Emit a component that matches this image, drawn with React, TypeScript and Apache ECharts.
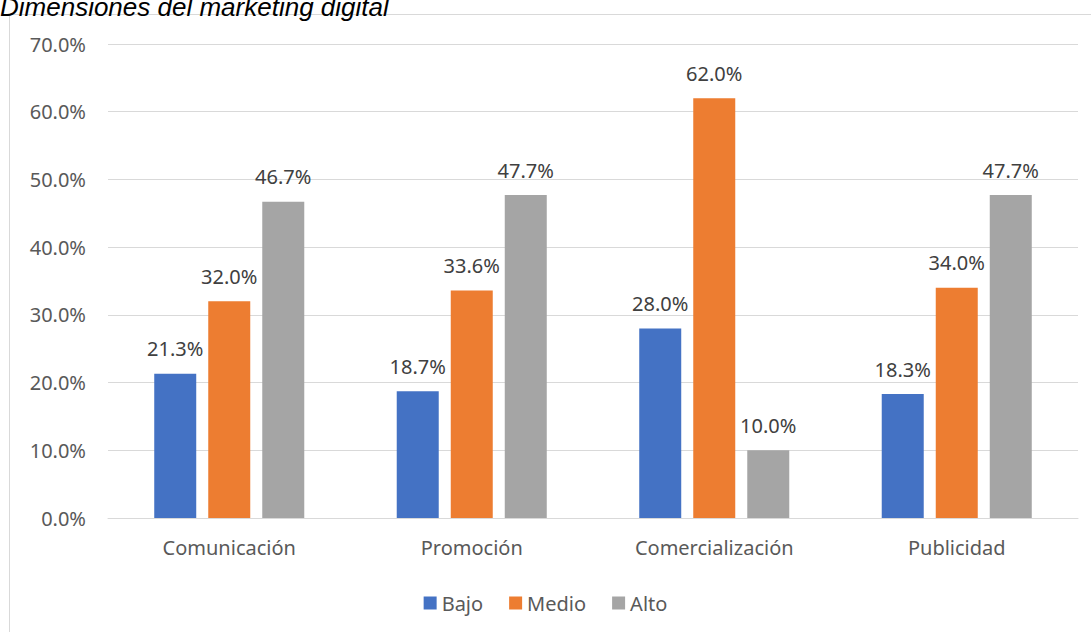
import React, { useEffect, useRef } from "react";
import * as echarts from "echarts";

const categories = ["Comunicación", "Promoción", "Comercialización", "Publicidad"];
const bajo = [21.3, 18.7, 28.0, 18.3];
const medio = [32.0, 33.6, 62.0, 34.0];
const alto = [46.7, 47.7, 10.0, 47.7];
const seriesNames = ["Bajo", "Medio", "Alto"];
const colors = ["#4472C4", "#ED7D31", "#A5A5A5"];
const titleText = "Dimensiones del marketing digital";

const FONT = "'Noto Sans', 'Open Sans', sans-serif";

export default function App() {
  const ref = useRef<HTMLDivElement>(null);
  useEffect(() => {
    if (!ref.current) return;
    const chart = echarts.init(ref.current, undefined, { renderer: "svg" });
    const data = [bajo, medio, alto];
    chart.setOption({
      animation: false,
      backgroundColor: "#ffffff",
      graphic: [
        {
          type: "rect",
          shape: { x: 9.5, y: 14.5, width: 1100, height: 700 },
          style: { fill: "none", stroke: "#d9d9d9", lineWidth: 1 },
          z: -1,
        },
        {
          type: "text",
          left: 0,
          top: -6,
          style: {
            text: titleText,
            font: "italic 26px 'Liberation Sans', Arial, sans-serif",
            fill: "#000000",
          },
        },
      ],
      legend: {
        bottom: 14,
        left: "center",
        itemWidth: 13,
        itemHeight: 13,
        itemGap: 26,
        icon: "rect",
        textStyle: { fontFamily: FONT, fontSize: 20, color: "#595959" },
        data: seriesNames,
      },
      grid: { left: 108, right: 13, top: 44, bottom: 114, containLabel: false },
      xAxis: {
        type: "category",
        data: categories,
        axisLine: { lineStyle: { color: "#d9d9d9", width: 1 } },
        axisTick: { show: false },
        axisLabel: { fontFamily: FONT, fontSize: 20, color: "#595959", margin: 19 },
      },
      yAxis: {
        type: "value",
        min: 0,
        max: 70,
        interval: 10,
        axisLine: { show: false },
        axisTick: { show: false },
        splitLine: { lineStyle: { color: "#d9d9d9", width: 1 } },
        axisLabel: {
          fontFamily: FONT,
          fontSize: 20,
          color: "#595959",
          margin: 22,
          formatter: (v: number) => v.toFixed(1) + "%",
        },
      },
      series: seriesNames.map((name, i) => ({
        name,
        type: "bar",
        data: data[i],
        barWidth: 42,
        barGap: "28.6%",
        itemStyle: { color: colors[i] },
        label: {
          show: true,
          position: "top",
          distance: 15,
          fontFamily: FONT,
          fontSize: 20,
          color: "#404040",
          formatter: (p: any) => Number(p.value).toFixed(1) + "%",
        },
      })),
    });
    return () => chart.dispose();
  }, []);
  return (
    <div
      ref={ref}
      style={{ position: "absolute", left: 0, top: 0, width: 1091, height: 632 }}
    />
  );
}
